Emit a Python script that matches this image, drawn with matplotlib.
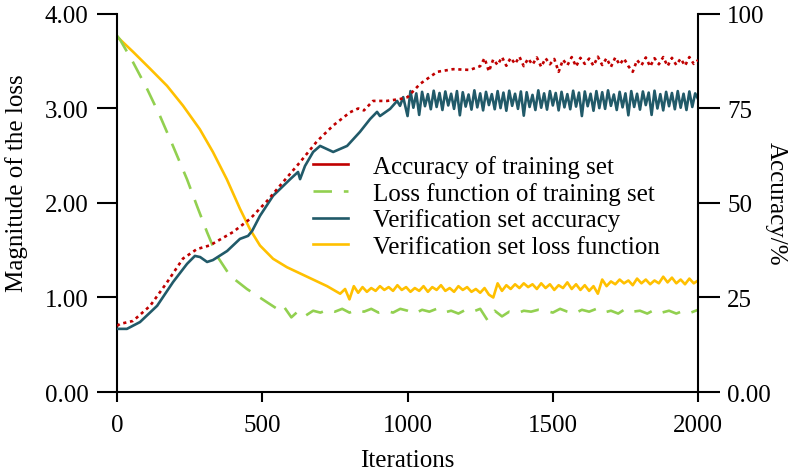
import numpy as np
import matplotlib
matplotlib.use('Agg')
import matplotlib.pyplot as plt
from matplotlib.lines import Line2D

plt.rcParams['font.family'] = ['Liberation Serif', 'DejaVu Serif']

# ---- training accuracy (%), right axis ----
train_acc_it = [0, 10, 55, 114, 172, 227, 275, 320, 399, 458, 516, 571, 630, 688,
                744, 802, 830, 850, 881, 929, 974, 1000, 1043, 1102, 1157, 1215]
train_acc = [17.5, 18.0, 18.8, 22.8, 29.0, 35.3, 37.8, 38.8, 42.3, 45.8, 50.5, 55.5, 60.8, 66.3,
             70.5, 74.0, 75.0, 74.5, 77.0, 77.0, 77.5, 78.0, 81.5, 84.7, 85.4, 85.2]
train_acc_osc_it = np.arange(1250, 2001, 15)
train_acc_osc = [86.2, 88.3, 84.8, 88.0, 86.5, 88.6, 86.3, 88.4, 86.8, 88.7,
                 86.2, 88.2, 86.6, 88.5, 86.0, 88.3, 86.7, 88.1, 84.7, 87.9,
                 86.4, 88.6, 86.1, 88.4, 86.8, 88.2, 86.3, 88.7, 86.5, 88.3,
                 86.0, 88.5, 86.6, 88.2, 86.2, 84.7, 87.8, 86.4, 88.5, 86.1,
                 88.3, 86.7, 88.6, 86.2, 88.4, 86.5, 88.2, 86.3, 88.6, 86.8,
                 87.8]

# ---- verification accuracy (%), right axis ----
val_acc_it = [0, 34, 79, 138, 193, 241, 268, 286, 310, 330, 379, 423, 451, 465, 492, 537,
              596, 623, 630, 647, 675, 699, 744, 792, 836, 871, 895, 905, 940, 964, 974, 985]
val_acc = [16.7, 16.7, 18.5, 22.8, 29.1, 33.9, 36.0, 35.7, 34.4, 34.9, 37.3, 40.5, 41.3, 42.6, 46.6, 51.9,
           56.3, 58.2, 56.3, 59.8, 63.5, 65.1, 63.5, 65.1, 68.8, 72.2, 74.1, 73.0, 74.9, 77.0, 75.7, 78.0]
val_acc_osc_it = np.arange(1000, 2001, 10)
val_acc_osc = [73.0, 79.6, 75.2, 79.0, 73.3, 79.4, 75.6, 78.8, 74.8, 79.7,
               75.4, 79.1, 74.6, 79.5, 75.8, 78.9, 74.9, 79.6, 73.2, 79.3,
               75.5, 78.7, 74.7, 79.8, 75.3, 79.0, 74.5, 79.4, 75.9, 78.8,
               74.8, 79.6, 75.1, 79.2, 74.4, 79.7, 75.7, 78.9, 74.9, 79.5,
               73.1, 79.3, 75.4, 78.6, 74.6, 79.8, 75.2, 79.0, 74.7, 79.6,
               75.8, 79.1, 74.5, 79.4, 75.3, 78.8, 74.8, 79.7, 75.5, 79.2,
               73.0, 79.5, 75.6, 78.9, 74.4, 79.6, 75.1, 79.3, 74.9, 79.8,
               75.7, 78.7, 74.6, 79.4, 75.3, 79.0, 73.2, 79.6, 75.4, 78.9,
               74.7, 79.5, 75.9, 79.2, 73.3, 79.7, 75.0, 78.8, 74.5, 79.4,
               75.6, 79.1, 74.8, 79.6, 75.2, 78.9, 74.6, 79.5, 75.4, 79.0,
               77.5]

# ---- training loss, left axis ----
train_loss_it = [0, 10, 55, 103, 148, 193, 241, 275, 310, 344, 389, 447, 516, 561]
train_loss = [3.77, 3.73, 3.49, 3.21, 2.92, 2.60, 2.25, 1.97, 1.69, 1.44, 1.23, 1.09, 0.95, 0.86]
train_loss_osc_it = np.arange(575, 2001, 25)
train_loss_osc = [0.90, 0.79, 0.86, 0.81, 0.86, 0.84, 0.87, 0.85, 0.88, 0.84,
                  0.87, 0.85, 0.88, 0.84, 0.86, 0.84, 0.88, 0.86, 0.83, 0.87,
                  0.85, 0.88, 0.84, 0.86, 0.83, 0.87, 0.85, 0.88, 0.76, 0.86,
                  0.80, 0.85, 0.83, 0.86, 0.85, 0.87, 0.86, 0.84, 0.88, 0.85,
                  0.83, 0.87, 0.85, 0.88, 0.84, 0.86, 0.83, 0.88, 0.85, 0.86,
                  0.83, 0.87, 0.84, 0.86, 0.83, 0.86, 0.84, 0.87]

# ---- verification loss, left axis ----
val_loss_it = [0, 55, 114, 172, 227, 285, 330, 378, 423, 458, 492, 537, 585, 654, 723, 768]
val_loss = [3.76, 3.60, 3.42, 3.24, 3.03, 2.78, 2.54, 2.25, 1.94, 1.72, 1.55, 1.41, 1.32, 1.22, 1.12, 1.04]
val_loss_osc_it = np.arange(785, 2001, 15)
val_loss_osc = [1.09, 0.98, 1.12, 1.05, 1.11, 1.06, 1.10, 1.07, 1.12, 1.08,
                1.11, 1.07, 1.13, 1.08, 1.11, 1.06, 1.10, 1.07, 1.12, 1.06,
                1.11, 1.08, 1.13, 1.07, 1.10, 1.06, 1.12, 1.08, 1.11, 1.06,
                1.09, 1.05, 1.10, 1.03, 1.00, 1.15, 1.07, 1.13, 1.09, 1.14,
                1.10, 1.15, 1.11, 1.14, 1.09, 1.15, 1.10, 1.14, 1.08, 1.13,
                1.10, 1.16, 1.09, 1.14, 1.08, 1.13, 1.07, 1.12, 1.04, 1.19,
                1.12, 1.17, 1.14, 1.19, 1.15, 1.18, 1.13, 1.20, 1.15, 1.19,
                1.14, 1.18, 1.15, 1.22, 1.16, 1.21, 1.15, 1.19, 1.14, 1.20,
                1.15, 1.18]

labels = ['Accuracy of training set', 'Loss function of training set',
          'Verification set accuracy', 'Verification set loss function']
c_red, c_green, c_teal, c_yellow = '#C00000', '#92D050', '#215A69', '#FFC000'
fs = 18

fig = plt.figure(figsize=(7.94, 4.77), dpi=100)
ax = fig.add_axes([0.1474, 0.1761, 0.7318, 0.7925])
ax2 = ax.twinx()

lw = 1.9
ax.plot(np.r_[val_loss_it, val_loss_osc_it], np.r_[val_loss, val_loss_osc],
        color=c_yellow, lw=lw, zorder=2)
ax.plot(np.r_[train_loss_it, train_loss_osc_it], np.r_[train_loss, train_loss_osc],
        color=c_green, lw=lw, dashes=(7, 4.5), zorder=2)
ax2.plot(np.r_[val_acc_it, val_acc_osc_it], np.r_[val_acc, val_acc_osc],
         color=c_teal, lw=lw, zorder=2)
ax2.plot(np.r_[train_acc_it, train_acc_osc_it], np.r_[train_acc, train_acc_osc],
         color=c_red, lw=lw, dashes=(1.2, 1.4), zorder=3)

ax.set_xlim(0, 2000)
ax.set_ylim(0, 4)
ax2.set_ylim(0, 100)
ax.set_xticks([0, 500, 1000, 1500, 2000])
ax.set_yticks([0, 1, 2, 3, 4])
ax.set_yticklabels(['0.00', '1.00', '2.00', '3.00', '4.00'])
ax2.set_yticks([0, 25, 50, 75, 100])
ax2.set_yticklabels(['0.00', '25', '50', '75', '100'])

for a in (ax, ax2):
    a.spines['top'].set_visible(False)
    for s in a.spines.values():
        s.set_linewidth(1.5)
ax.spines['right'].set_visible(False)
ax2.spines['left'].set_visible(False)
ax2.spines['bottom'].set_visible(False)

ax.tick_params(axis='y', direction='out', length=14.5, width=1.5, pad=6, labelsize=fs)
ax.tick_params(axis='x', direction='out', length=7, width=1.5, pad=9, labelsize=fs)
ax2.tick_params(axis='y', direction='out', length=16, width=1.5, pad=5, labelsize=fs)

ax.set_xlabel('Iterations', fontsize=fs, labelpad=9)
ax.set_ylabel('Magnitude of the loss', fontsize=fs)
ax.yaxis.set_label_coords(-0.153, 0.555)
ax2.set_ylabel('Accuracy/%', fontsize=fs, rotation=270, va='bottom')
ax2.yaxis.set_label_coords(1.115, 0.5)

handles = [Line2D([], [], color=c_red, lw=lw),
           Line2D([], [], color=c_green, lw=lw, dashes=(7, 4.5)),
           Line2D([], [], color=c_teal, lw=lw),
           Line2D([], [], color=c_yellow, lw=lw)]
leg = ax2.legend(handles, labels, loc='upper left', bbox_to_anchor=(0.337, 0.627),
                 frameon=False, fontsize=fs, handlelength=1.4, handletextpad=1.0,
                 labelspacing=0.15, borderpad=0, borderaxespad=0)

fig.savefig('out.png', dpi=100)
